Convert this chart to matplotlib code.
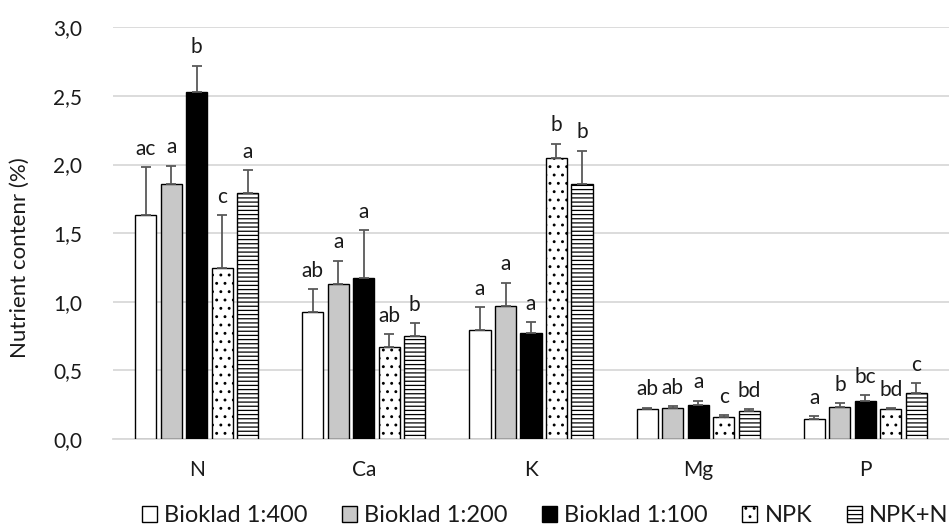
import matplotlib
matplotlib.use("Agg")
import matplotlib.pyplot as plt
import numpy as np

plt.rcParams['font.family'] = ['Lato', 'DejaVu Sans']
plt.rcParams['hatch.linewidth'] = 0.9

categories = ["N", "Ca", "K", "Mg", "P"]
series = ["Bioklad 1:400", "Bioklad 1:200", "Bioklad 1:100", "NPK", "NPK+N"]

bioklad400 = [1.63, 0.925, 0.796, 0.216, 0.143]
bioklad200 = [1.86, 1.13, 0.971, 0.228, 0.231]
bioklad100 = [2.53, 1.175, 0.77, 0.245, 0.275]
npk = [1.245, 0.668, 2.05, 0.158, 0.216]
npkn = [1.79, 0.752, 1.86, 0.204, 0.333]

err400 = [0.35, 0.165, 0.164, 0.01, 0.022]
err200 = [0.13, 0.17, 0.167, 0.012, 0.029]
err100 = [0.19, 0.345, 0.082, 0.032, 0.043]
errnpk = [0.385, 0.097, 0.10, 0.015, 0.009]
errnpkn = [0.17, 0.091, 0.24, 0.012, 0.073]

letters400 = ["ac", "ab", "a", "ab", "a"]
letters200 = ["a", "a", "a", "ab", "b"]
letters100 = ["b", "a", "a", "a", "bc"]
lettersnpk = ["c", "ab", "b", "c", "bd"]
lettersnpkn = ["a", "b", "b", "bd", "c"]

values = [bioklad400, bioklad200, bioklad100, npk, npkn]
errors = [err400, err200, err100, errnpk, errnpkn]
letters = [letters400, letters200, letters100, lettersnpk, lettersnpkn]

styles = [
    dict(facecolor="white", hatch=None),
    dict(facecolor="#c8c8c8", hatch=None),
    dict(facecolor="black", hatch=None),
    dict(facecolor="white", hatch=".."),
    dict(facecolor="white", hatch="----"),
]

fig = plt.figure(figsize=(9.49, 5.29), dpi=100)
ax = fig.add_axes([113/949, 1-439/529, (949-113)/949, (439-27.3)/529])

x = np.arange(len(categories))
width = 0.126
step = 0.1525

for i, (vals, errs, lets, st, name) in enumerate(zip(values, errors, letters, styles, series)):
    pos = x + (i - 2) * step
    ax.bar(pos, vals, width=width, facecolor=st["facecolor"], edgecolor="black",
           linewidth=1.0, hatch=st["hatch"], label=name, zorder=3)
    ax.errorbar(pos, vals, yerr=[np.zeros(len(vals)), errs], fmt="none",
                ecolor="#595959", elinewidth=1.3, capsize=3.5, capthick=1.3, zorder=4)
    for p, v, e, l in zip(pos, vals, errs, lets):
        ax.annotate(l, (p, v + e), xytext=(0, 9), textcoords="offset points",
                    ha="center", va="baseline", fontsize=15, color="#1a1a1a")

ax.set_ylim(0, 3.0)
ax.set_xlim(-0.5, 4.5)
ax.set_yticks(np.arange(0, 3.01, 0.5))
ax.set_yticklabels([f"{t:.1f}".replace(".", ",") for t in np.arange(0, 3.01, 0.5)])
ax.set_xticks(x)
ax.set_xticklabels(categories)
ax.tick_params(axis="both", length=0, labelsize=15, colors="#1a1a1a")
ax.tick_params(axis="y", pad=22)
ax.tick_params(axis="x", pad=15)
ax.yaxis.grid(True, color="#d9d9d9", linewidth=1.3, zorder=0)
ax.set_axisbelow(True)
for s in ["top", "right", "left"]:
    ax.spines[s].set_visible(False)
ax.spines["bottom"].set_color("#d9d9d9")
ax.spines["bottom"].set_linewidth(1.3)

fig.text(20/949, 1-258/529, "Nutrient contenr (%)", rotation=90, ha="center", va="center",
         fontsize=16, color="#1a1a1a")

leg = fig.legend(loc="center", bbox_to_anchor=(545/949, 1-516/529), ncol=5, frameon=False,
                 fontsize=17, handlelength=0.65, handleheight=0.65, handletextpad=0.3,
                 columnspacing=1.45, borderpad=0)
for t in leg.get_texts():
    t.set_color("#1a1a1a")

fig.savefig("out.png", dpi=100)
